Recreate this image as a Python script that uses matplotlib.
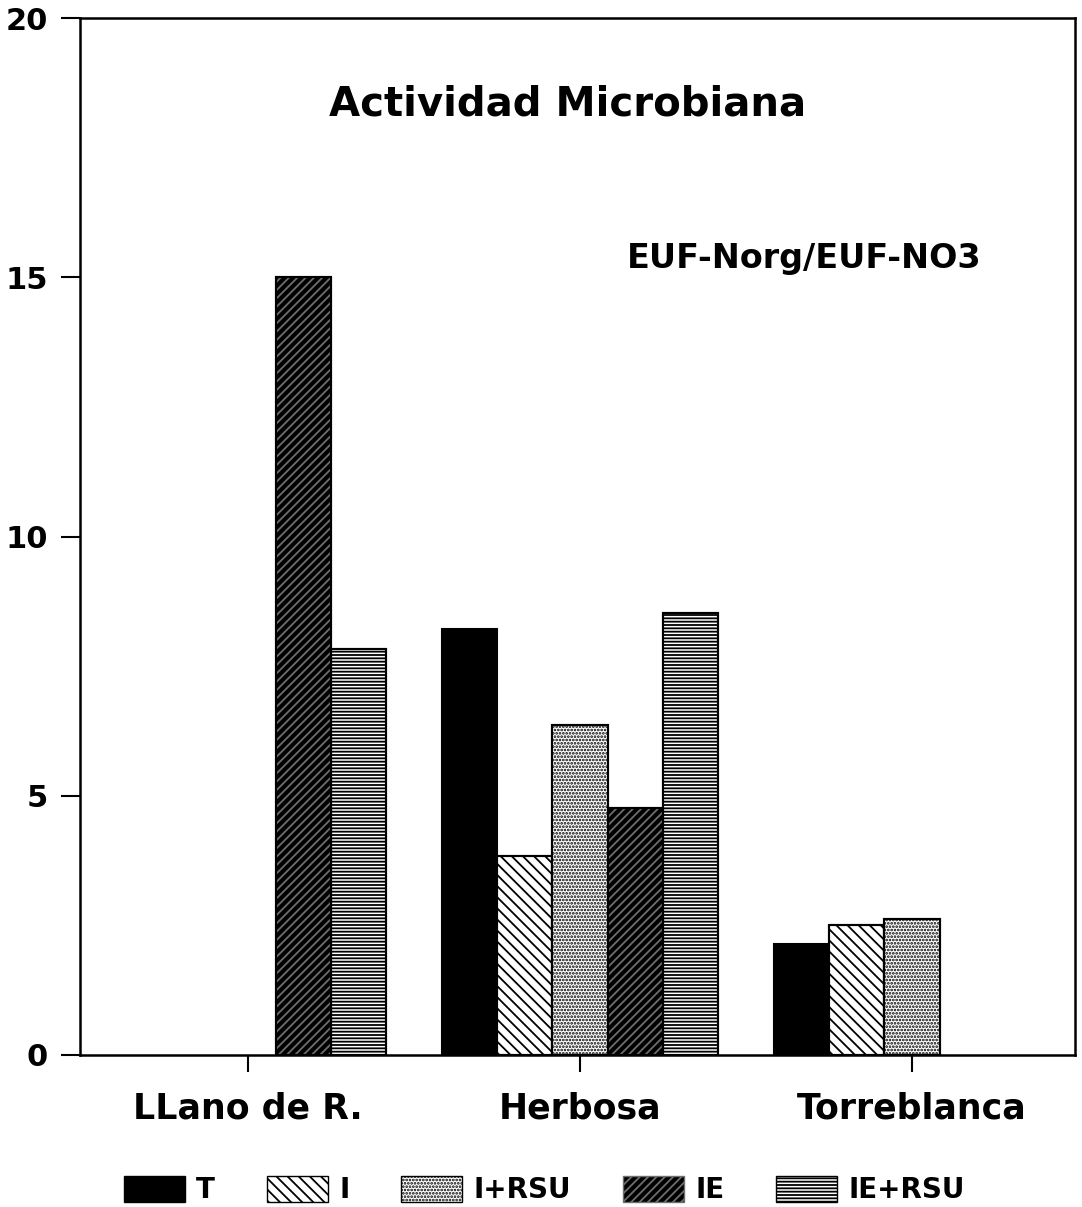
import numpy as np
import matplotlib.pyplot as plt
from matplotlib.patches import Patch

plt.rcParams['font.family'] = ['DejaVu Sans']
plt.rcParams['hatch.linewidth'] = 1.3

sitios = ['LLano de R.', 'Herbosa', 'Torreblanca']
series = ['T', 'I', 'I+RSU', 'IE', 'IE+RSU']
T = [0, 8.22, 2.14]
I = [0, 3.84, 2.51]
I_RSU = [0, 6.36, 2.62]
IE = [15.0, 4.76, 0]
IE_RSU = [7.83, 8.52, 0]
valores = [T, I, I_RSU, IE, IE_RSU]

# fill, hatch, hatch colour
estilos = [('black', '', 'black'),
           ('white', '\\\\\\', 'black'),
           ('white', '.....', 'black'),
           ('black', '////', '#6e6e6e'),
           ('white', '-----', 'black')]

fig = plt.figure(figsize=(10.82, 12.07), dpi=100)
ax = fig.add_axes([0.074, 0.126, 0.9195, 0.859])

x = np.arange(1, 4)
w = 1 / 6.0
for k, (vals, (fc, hatch, hc)) in enumerate(zip(valores, estilos)):
    pos = x + (k - 2) * w
    v = np.array(vals, dtype=float)
    m = v > 0
    ax.bar(pos[m], v[m], w, color=fc, edgecolor='black', linewidth=1.5, zorder=2)
    if hatch:
        ax.bar(pos[m], v[m], w, color='none', edgecolor=hc, hatch=hatch,
               linewidth=0, zorder=3)
        ax.bar(pos[m], v[m], w, color='none', edgecolor='black',
               linewidth=1.5, zorder=4)

ax.set_xlim(0.494, 3.491)
ax.set_ylim(0, 20)
ax.set_yticks([0, 5, 10, 15, 20])
ax.set_xticks(x)
ax.set_xticklabels(sitios, fontsize=25, fontweight='bold')
ax.tick_params(axis='y', direction='out', length=14, width=1.5, labelsize=22, pad=9)
ax.tick_params(axis='x', direction='out', length=12, width=1.5, pad=14)
for lab in ax.get_yticklabels():
    lab.set_fontweight('bold')
for s in ax.spines.values():
    s.set_linewidth(1.8)

ax.text(0.49, 0.917, 'Actividad Microbiana', transform=ax.transAxes,
        ha='center', va='center', fontsize=29, fontweight='bold')
ax.text(0.728, 0.768, 'EUF-Norg/EUF-NO3', transform=ax.transAxes,
        ha='center', va='center', fontsize=24, fontweight='bold')

handles = []
for fc, hatch, hc in estilos:
    handles.append(Patch(facecolor=fc, edgecolor=hc if hatch else 'black',
                         hatch=hatch, linewidth=1))
leg = fig.legend(handles, series, loc='center', bbox_to_anchor=(0.503, 0.014),
                 ncol=5, frameon=False, fontsize=20, handlelength=2.2,
                 handleheight=1.1, columnspacing=1.87, handletextpad=0.4)
for t in leg.get_texts():
    t.set_fontweight('bold')

fig.savefig('out.png', dpi=100)
